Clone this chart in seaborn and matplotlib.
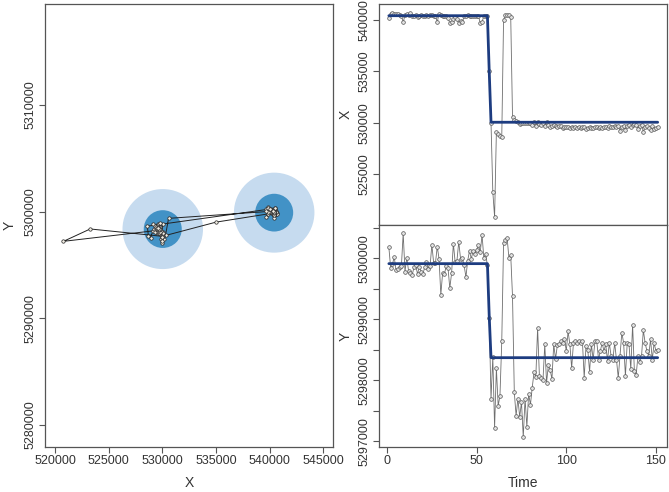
import numpy as np
import pandas as pd
import matplotlib
matplotlib.use("Agg")
import matplotlib.pyplot as plt
from matplotlib.patches import Circle
import seaborn as sns

# observed coordinates, t = 1..151
x_obs = [
    540200, 540600, 540650, 540600, 540550, 540600, 540500, 540400, 539800, 540450,
    540600, 540500, 540650, 540400, 540350, 540500, 540300, 540400, 540450, 540400,
    540350, 540450, 540400, 540450, 540500, 540350, 540400, 539800, 540600, 540450,
    540350, 540400, 540400, 540200, 539700, 539800, 540100, 540300, 540100, 539700,
    539900, 539800, 540350, 540400, 540450, 540350, 540400, 540350, 540400, 540350,
    540400, 539700, 539800, 540400, 540350, 540400,
    535000, 530000, 523280, 520790, 529130, 528900, 528700, 528600, 540000, 540500,
    540500, 540450, 540300, 530580,
    530300, 530150, 530100, 529900, 529950, 530000, 529950, 530000, 529950, 530000,
    529800, 530050, 529700, 530100, 529900, 529800, 530000, 529700, 530100, 529750,
    529600, 529700, 529800, 529650, 529600, 529700, 529650, 529500, 529600, 529550,
    529600, 529500, 529550, 529500, 529600, 529450, 529550, 529500, 529600, 529550,
    529400, 529500, 529550, 529450, 529500, 529600, 529550, 529500, 529600, 529500,
    529550, 529600, 529500, 529650, 529550, 529600, 529700, 529600, 529700, 529200,
    529600, 529650, 529300, 529700, 529800, 529600, 529750, 529900, 529800, 529400,
    529700, 529800, 529100, 529600, 529700, 529500, 529300, 529700, 529400, 529500,
    529600,
]
y_obs = [
    5300180, 5299840, 5299900, 5300020, 5299800, 5299820, 5299850, 5299870, 5300410, 5299780,
    5300010, 5299790, 5299750, 5299720, 5299850, 5299880, 5299740, 5299860, 5299780, 5299740,
    5299850, 5299940, 5299830, 5299870, 5300220, 5299920, 5299920, 5300190, 5299990, 5299400,
    5299760, 5299740, 5299870, 5299840, 5299510, 5299750, 5300240, 5299930, 5299960, 5300270,
    5299990, 5300000, 5299880, 5299690, 5299960, 5300120, 5299990, 5300120, 5300070, 5300140,
    5300220, 5300100, 5300380, 5300000, 5300070, 5299880,
    5299020, 5297690, 5298380, 5297220, 5298200, 5297580, 5297750, 5298640, 5300245, 5300300,
    5300330, 5300000, 5300050, 5299374,
    5297800, 5297420, 5297700, 5297400, 5297640, 5297070, 5297700, 5297240, 5297780, 5297600,
    5297880, 5298130, 5298050, 5298860, 5298070, 5298040, 5298000, 5298590, 5297960, 5298250,
    5298170, 5298020, 5298590, 5298350, 5298570, 5298590, 5298640, 5298610, 5298670, 5298480,
    5298800, 5298590, 5298200, 5298610, 5298640, 5298610, 5298640, 5298610, 5298640, 5298040,
    5298560, 5298500, 5298140, 5298590, 5298340, 5298640, 5298640, 5298340, 5298480, 5298610,
    5298480, 5298590, 5298320, 5298610, 5298400, 5298340, 5298610, 5298340, 5298040, 5298400,
    5298780, 5298610, 5298070, 5298610, 5298590, 5298180, 5298910, 5298150, 5298090, 5298400,
    5298300, 5298400, 5298820, 5298610, 5298480, 5298400, 5298670, 5298340, 5298610, 5298480,
    5298500,
]
time = list(range(1, 152))

# decoded state means (blue line) and state centres for the map
state_x = [540420] * 56 + [535000] + [530040] * 94
state_y = [5299910] * 56 + [5299050] + [5298370] * 94
centre_x = [540420, 530040]
centre_y = [5299910, 5298370]
radius_inner = 1770
radius_outer = 3750

assert len(x_obs) == len(y_obs) == len(time) == len(state_x) == len(state_y)

df = pd.DataFrame({"Time": time, "X": x_obs, "Y": y_obs, "sx": state_x, "sy": state_y})

sns.set_theme(style="white")
plt.rcParams["font.family"] = ["Liberation Sans", "DejaVu Sans"]
plt.rcParams["axes.edgecolor"] = "#555555"
plt.rcParams["axes.linewidth"] = 0.9

W, H = 669, 492
fig = plt.figure(figsize=(W / 100, H / 100), dpi=100)

def px_axes(l, t, r, b):
    return fig.add_axes([l / W, 1 - b / H, (r - l) / W, (b - t) / H])

ax_map = px_axes(45, 4, 333, 447)
ax_x = px_axes(379, 4, 667, 225)
ax_y = px_axes(379, 225, 667, 447)

txt = "#333333"
navy = "#1d3c80"

# ---- map panel ----
for cx, cy in zip(centre_x, centre_y):
    ax_map.add_patch(Circle((cx, cy), radius_outer, color="#c6dbef", lw=0, zorder=1))
    ax_map.add_patch(Circle((cx, cy), radius_inner, color="#4292c6", lw=0, zorder=2))
sns.lineplot(data=df, x="X", y="Y", sort=False, estimator=None, ax=ax_map,
             color="#222222", lw=0.7, zorder=3)
sns.scatterplot(data=df, x="X", y="Y", ax=ax_map, s=6, facecolor="#f4f0e6",
                edgecolor="#222222", linewidth=0.5, zorder=4)
ax_map.set_xlim(519070, 545900)
ax_map.set_ylim(5277940, 5319470)
ax_map.set_xticks(range(520000, 545001, 5000))
ax_map.set_yticks(range(5280000, 5310001, 10000))
ax_map.set_xlabel("X", fontsize=10, color=txt, labelpad=6)
ax_map.set_ylabel("Y", fontsize=10, color=txt, labelpad=6)

# ---- X vs time ----
sns.lineplot(data=df, x="Time", y="X", ax=ax_x, color="#6e6e6e", lw=0.6, zorder=2)
sns.scatterplot(data=df, x="Time", y="X", ax=ax_x, s=7, facecolor="#e2e2e2",
                edgecolor="#555555", linewidth=0.5, zorder=3)
sns.lineplot(data=df, x="Time", y="sx", ax=ax_x, color=navy, lw=2.0, zorder=4)
ax_x.set_xlim(-4.5, 156.2)
ax_x.set_ylim(520030, 541560)
ax_x.set_xticks([])
ax_x.set_yticks([525000, 530000, 535000, 540000])
ax_x.set_xlabel("")
ax_x.set_ylabel("X", fontsize=10, color=txt, labelpad=4)

# ---- Y vs time ----
sns.lineplot(data=df, x="Time", y="Y", ax=ax_y, color="#6e6e6e", lw=0.6, zorder=2)
sns.scatterplot(data=df, x="Time", y="Y", ax=ax_y, s=7, facecolor="#e2e2e2",
                edgecolor="#555555", linewidth=0.5, zorder=3)
sns.lineplot(data=df, x="Time", y="sy", ax=ax_y, color=navy, lw=2.0, zorder=4)
ax_y.set_xlim(-4.5, 156.2)
ax_y.set_ylim(5296907, 5300543)
ax_y.set_xticks([0, 50, 100, 150])
ax_y.set_xticklabels(["0", "50", "100", "150"])
yt = list(range(5297000, 5300501, 500))
ax_y.set_yticks(yt)
ax_y.set_yticklabels([str(v) if v % 1000 == 0 else "" for v in yt])
ax_y.set_xlabel("Time", fontsize=10, color=txt, labelpad=6)
ax_y.set_ylabel("Y", fontsize=10, color=txt, labelpad=4)

# plain integer labels (no offset / scientific notation)
ax_map.set_xticklabels([str(v) for v in range(520000, 545001, 5000)])
ax_map.set_yticklabels([str(v) for v in range(5280000, 5310001, 10000)])
ax_x.set_yticklabels(["525000", "530000", "535000", "540000"])

for ax in (ax_map, ax_x, ax_y):
    for s in ax.spines.values():
        s.set_visible(True)
    ax.tick_params(axis="both", direction="out", length=4, width=0.8, color="#555555",
                   labelsize=9, labelcolor=txt, pad=2, bottom=True, left=True)
    ax.tick_params(axis="y", labelrotation=90)
    for lab in ax.get_yticklabels():
        lab.set_va("center")
    ax.grid(False)
ax_x.tick_params(axis="x", bottom=False)

fig.savefig("out.png", dpi=100)
